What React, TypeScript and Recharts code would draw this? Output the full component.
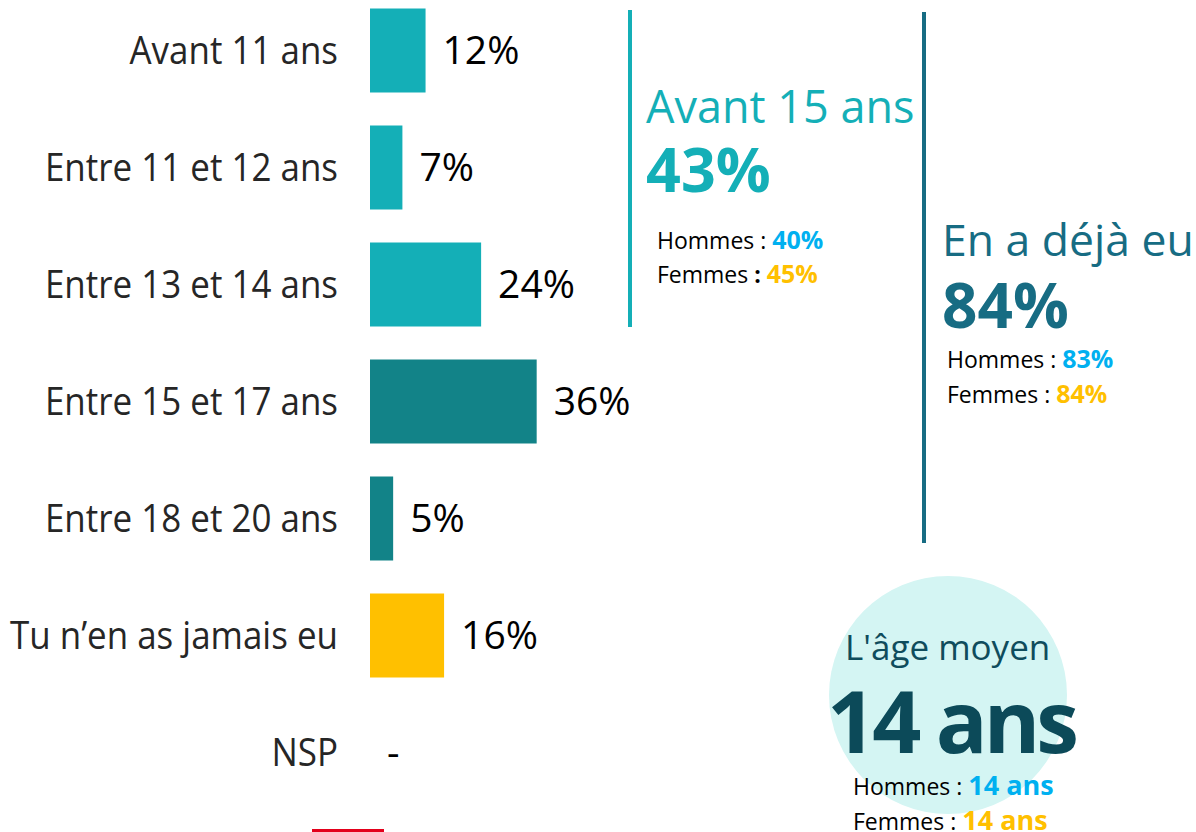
import React from 'react';
import { BarChart, Bar, XAxis, YAxis, Cell, LabelList } from 'recharts';

const categories = [
  'Avant 11 ans',
  'Entre 11 et 12 ans',
  'Entre 13 et 14 ans',
  'Entre 15 et 17 ans',
  'Entre 18 et 20 ans',
  'Tu n’en as jamais eu',
  'NSP',
];
const values = [12, 7, 24, 36, 5, 16, 0];
const barColors = ['#14AFB7', '#14AFB7', '#14AFB7', '#128388', '#128388', '#FFC000', '#FFC000'];

const avant15 = { title: 'Avant 15 ans', total: '43%', hommes: '40%', femmes: '45%' };
const dejaEu = { title: 'En a déjà eu', total: '84%', hommes: '83%', femmes: '84%' };
const ageMoyen = { title: "L'âge moyen", total: '14 ans', hommes: '14 ans', femmes: '14 ans' };

const data = categories.map((label, i) => ({ label, value: values[i] }));

const FONT = '"Open Sans", "Noto Sans", sans-serif';
const BLUE = '#00B0F0';
const GOLD = '#FFC000';

function CategoryTick(props: any) {
  const { x, y, payload } = props;
  return (
    <g transform={`translate(${x},${y}) scale(0.92,1)`}>
      <text x={0} y={0} dy="0.36em" textAnchor="end" fontSize={38} fontFamily={FONT} fill="#262626">
        {payload.value}
      </text>
    </g>
  );
}

// value label, a dash when nothing was answered
function ValueLabel(props: any) {
  const { x, y, width, height, value } = props;
  const empty = !value;
  return (
    <text
      x={Number(x) + (empty ? 0 : Number(width || 0)) + 17}
      y={Number(y) + Number(height) / 2}
      dy="0.36em"
      fontSize={39}
      fontFamily={FONT}
      fill="#000"
    >
      {empty ? '-' : `${value}%`}
    </text>
  );
}

export default function App() {
  return (
    <div
      style={{
        position: 'fixed',
        left: 0,
        top: 0,
        width: 1196,
        height: 832,
        background: '#fff',
        overflow: 'hidden',
        fontFamily: FONT,
      }}
    >
      <div style={{ position: 'absolute', left: 0, top: -8.5 }}>
        <BarChart
          width={1196}
          height={819}
          data={data}
          layout="vertical"
          margin={{ top: 0, right: 363, bottom: 0, left: 0 }}
          barCategoryGap="14%"
        >
          <XAxis type="number" domain={[0, 100]} hide />
          <YAxis
            type="category"
            dataKey="label"
            width={370}
            axisLine={false}
            tickLine={false}
            tickSize={0}
            tickMargin={32}
            interval={0}
            tick={<CategoryTick />}
          />
          <Bar dataKey="value" isAnimationActive={false} minPointSize={0.5}>
            {data.map((d, i) => (
              <Cell key={d.label} fill={barColors[i]} fillOpacity={d.value ? 1 : 0} />
            ))}
            <LabelList dataKey="value" content={<ValueLabel />} />
          </Bar>
        </BarChart>
      </div>

      <svg width={1196} height={832} style={{ position: 'absolute', left: 0, top: 0 }} fontFamily={FONT}>
        {/* avant 15 ans */}
        <rect x={628} y={10} width={4} height={317} fill="#14AFB7" />
        <text x={646} y={123} fontSize={45} fill="#14AFB7">{avant15.title}</text>
        <text x={646} y={192} fontSize={61} fontWeight={700} fill="#14AFB7">{avant15.total}</text>
        <text x={657} y={249} fontSize={23} fill="#000">
          Hommes : <tspan fontWeight={700} fontSize={25} fill={BLUE}>{avant15.hommes}</tspan>
        </text>
        <text x={657} y={283} fontSize={23} fill="#000">
          Femmes <tspan fontWeight={700}>:</tspan> <tspan fontWeight={700} fontSize={25} fill={GOLD}>{avant15.femmes}</tspan>
        </text>

        {/* en a deja eu */}
        <rect x={922} y={12} width={4} height={531} fill="#176C83" />
        <text x={942} y={256} fontSize={44.5} fill="#176C83">{dejaEu.title}</text>
        <text x={942} y={328} fontSize={62} fontWeight={700} fill="#176C83">{dejaEu.total}</text>
        <text x={947} y={368} fontSize={23} fill="#000">
          Hommes : <tspan fontWeight={700} fontSize={25} fill={BLUE}>{dejaEu.hommes}</tspan>
        </text>
        <text x={947} y={403} fontSize={23} fill="#000">
          Femmes : <tspan fontWeight={700} fontSize={25} fill={GOLD}>{dejaEu.femmes}</tspan>
        </text>

        {/* age moyen */}
        <circle cx={948} cy={695} r={119} fill="#D4F5F3" />
        <text x={845} y={660} fontSize={35} fill="#0F4C5C">{ageMoyen.title}</text>
        <text x={827} y={753} fontSize={86} fontWeight={700} letterSpacing={-4} fill="#0C4A59">{ageMoyen.total}</text>
        <text x={853} y={795} fontSize={23} fill="#000">
          Hommes : <tspan fontWeight={700} fontSize={27} fill={BLUE}>{ageMoyen.hommes}</tspan>
        </text>
        <text x={853} y={830} fontSize={23} fill="#000">
          Femmes : <tspan fontWeight={700} fontSize={27} fill={GOLD}>{ageMoyen.femmes}</tspan>
        </text>

        <rect x={312} y={829} width={72} height={3} fill="#E3001B" />
      </svg>
    </div>
  );
}
